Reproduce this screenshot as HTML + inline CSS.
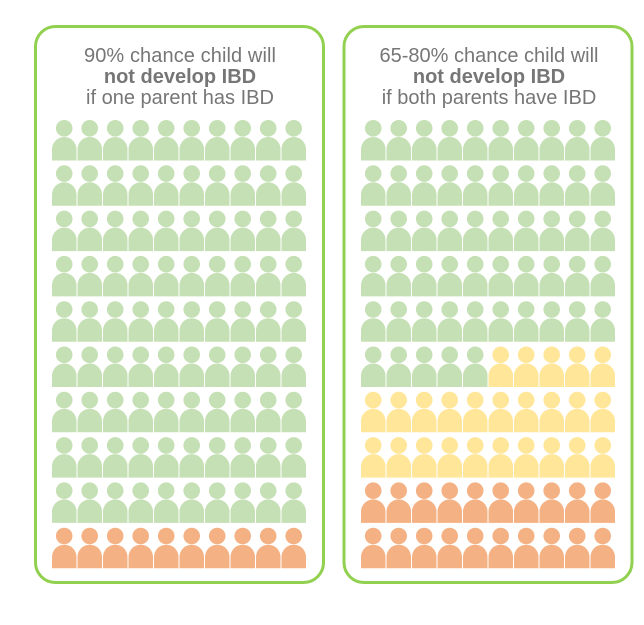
<!DOCTYPE html>
<html><head><meta charset="utf-8"><style>
body{margin:0;background:#fff;width:644px;height:620px;overflow:hidden;font-family:"Liberation Sans",sans-serif}
</style></head><body>
<svg id="chart" width="644" height="620">
  <rect x="35.5" y="26.5" width="288" height="556" rx="20" fill="#fff" stroke="#92d050" stroke-width="3"/>
  <rect x="344" y="26.5" width="288" height="556" rx="20" fill="#fff" stroke="#92d050" stroke-width="3"/>
  <g font-size="20" fill="#767676" text-anchor="middle">
    <text x="180" y="62" textLength="192">90% chance child will</text>
    <text x="180" y="83" font-weight="bold">not develop IBD</text>
    <text x="180" y="104">if one parent has IBD</text>
    <text x="489" y="62">65-80% chance child will</text>
    <text x="489" y="83" font-weight="bold">not develop IBD</text>
    <text x="489" y="104">if both parents have IBD</text>
  </g>
  <g id="icons"></g>
</svg>
<script>
const categories = ["unaffected", "possible", "affected"];
const colors = ["#c5e0b4", "#ffe699", "#f4b183"];
const leftCounts = [90, 0, 10];
const rightCounts = [55, 25, 20];
const panelX = [52, 361];
const g = document.getElementById('icons');
const NS = 'http://www.w3.org/2000/svg';
function drawPanel(counts, x0, pname){
  let idx = 0;
  counts.forEach((c, ci) => {
    for (let k = 0; k < c; k++, idx++) {
      const col = idx % 10, row = Math.floor(idx / 10);
      const x = x0 + col * 25.5, y = 120 + row * 45.3;
      const grp = document.createElementNS(NS, 'g');
      
      
      grp.setAttribute('fill', colors[ci]);
      const head = document.createElementNS(NS, 'circle');
      head.setAttribute('cx', x + 12.2); head.setAttribute('cy', y + 8.3); head.setAttribute('r', 8.3);
      const body = document.createElementNS(NS, 'path');
      const w = 24.5, t = y + 17, b = y + 40.5, r = 12.25;
      body.setAttribute('d', `M${x},${b} V${t + r} A${r},${r} 0 0 1 ${x + w},${t + r} V${b} Z`);
      grp.appendChild(head); grp.appendChild(body);
      g.appendChild(grp);
    }
  });
}
drawPanel(leftCounts, panelX[0], 'left');
drawPanel(rightCounts, panelX[1], 'right');
</script>
</body></html>
